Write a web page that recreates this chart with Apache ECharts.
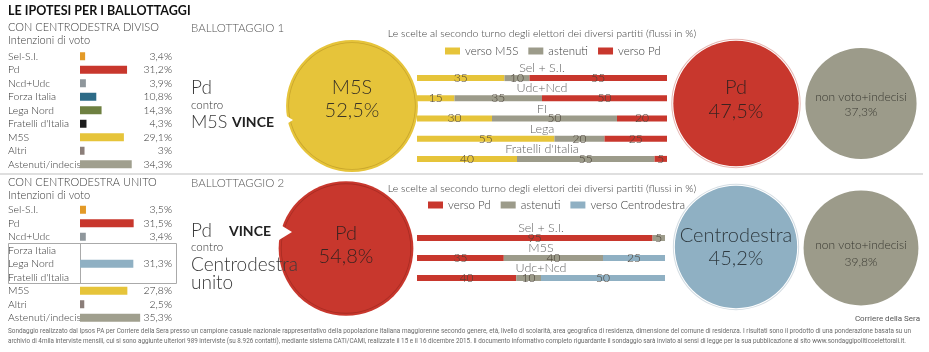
<!DOCTYPE html>
<html><head><meta charset="utf-8">
<script src="https://cdn.jsdelivr.net/npm/echarts/dist/echarts.min.js"></script>
<style>html,body{margin:0;padding:0;background:#fff}#c{width:929px;height:352px}</style>
</head><body><div id="c"></div>
<script>
// ---------- DATA ----------
const parties1 = ['Sel-S.I.','Pd','Ncd+Udc','Forza Italia','Lega Nord',"Fratelli d'Italia",'M5S','Altri','Astenuti/indecisi'];
const votes1 = [3.4,31.2,3.9,10.8,14.3,4.3,29.1,3,34.3];
const parties2 = ['Sel-S.I.','Pd','Ncd+Udc','Forza Italia','Lega Nord',"Fratelli d'Italia",'M5S','Altri','Astenuti/indecisi'];
// Forza Italia + Lega Nord + Fratelli d'Italia united: one value shown on the middle row
const votes2 = [3.5,31.5,3.4,null,31.3,null,27.8,2.5,35.3];

const flow1Parties = ['Sel + S.I.','Udc+Ncd','FI','Lega',"Fratelli d'Italia"];
const flow1ToM5S = [35,15,30,55,40];
const flow1Abst  = [10,35,50,20,55];
const flow1ToPd  = [55,50,20,25,5];

const flow2Parties = ['Sel + S.I.','M5S','Udc+Ncd'];
const flow2ToPd  = [95,35,40];
const flow2Abst  = [5,40,10];
const flow2ToCdx = [0,25,50];

const run1Names = ['M5S','Pd','non voto+indecisi'];
const run1Values = [52.5,47.5,37.3];
const run2Names = ['Pd','Centrodestra','non voto+indecisi'];
const run2Values = [54.8,45.2,39.8];

// ---------- STYLES ----------
const C = {
  sel:'#e39a27', pd:'#c8372d', ncd:'#8f979c', fi:'#2d6b87', lega:'#6e8041', fdi:'#1c1c1c',
  m5s:'#e6c43a', altri:'#8b7e79', ast:'#a09f8e', cdx:'#8fb0c3', gray:'#9c9b8a'
};
const colors1 = [C.sel,C.pd,C.ncd,C.fi,C.lega,C.fdi,C.m5s,C.altri,C.ast];
const colors2 = [C.sel,C.pd,C.ncd,C.cdx,C.cdx,C.cdx,C.m5s,C.altri,C.ast];
const FONT = 'Lato';
const fmt = v => (v===null||v===undefined) ? '' : String(v).replace('.',',') + '%';

const chart = echarts.init(document.getElementById('c'), null, {renderer:'canvas'});

function leftGrid(top){
  return {left:80, top:top, width:92, height:121.5, outerBoundsMode:'none', containLabel:false};
}
const grids = [
  leftGrid(49.5), leftGrid(203),
  {left:417, top:68, width:250, height:101, outerBoundsMode:'none'},
  {left:417, top:228, width:248, height:60, outerBoundsMode:'none'}
];
const hiddenX = (gi, max) => ({type:'value', gridIndex:gi, min:0, max:max, show:false});
const xAxes = [hiddenX(0, 61), hiddenX(1, 54), hiddenX(2, 100), hiddenX(3, 100)];

const rowLabel = {fontFamily:FONT, fontWeight:300, fontSize:10.4, color:'#333', interval:0, hideOverlap:false};
function leftY(gi, names){
  return {type:'category', gridIndex:gi, data:names, inverse:true,
    axisLine:{show:false}, axisTick:{show:false}, splitLine:{show:false},
    axisLabel:Object.assign({align:'left', margin:72}, rowLabel)};
}
function rightY(gi, names, vals){
  return {type:'category', gridIndex:gi, data:names, inverse:true, position:'right',
    axisLine:{show:false}, axisTick:{show:false}, splitLine:{show:false},
    axisLabel:Object.assign({align:'right', margin:0, formatter:(v, i)=> fmt(vals[i])}, rowLabel)};
}
const yAxes = [
  leftY(0, parties1), rightY(0, parties1, votes1),
  leftY(1, parties2), rightY(1, parties2, votes2),
  {type:'category', gridIndex:2, data:flow1Parties, inverse:true, show:false},
  {type:'category', gridIndex:3, data:flow2Parties, inverse:true, show:false}
];

const segLabel = {show:true, position:'inside', fontFamily:FONT, fontWeight:300, fontSize:12,
  color:'#4a4238', textBorderWidth:0, formatter:p => p.value>0 ? p.value : ''};

function flowSeries(name, data, color, xi, yi){
  return {type:'bar', name:name, stack:'s'+xi, xAxisIndex:xi, yAxisIndex:yi, data:data,
    barWidth:6, itemStyle:{color:color}, label:segLabel, silent:true, animation:false};
}
function nameSeries(names, xi, yi){
  return {type:'scatter', xAxisIndex:xi, yAxisIndex:yi, symbolSize:1, itemStyle:{color:'rgba(0,0,0,0)'},
    data:names.map((n,i)=>({name:n, value:[50,i]})), silent:true, animation:false, z:5,
    label:{show:true, position:'inside', offset:[0,-10], formatter:'{b}', fontFamily:FONT, fontWeight:300,
      fontSize:12.5, color:'#3a3a3a'}};
}

// shift > 0 moves the two-line label up, < 0 moves it down
function circle(name, value, color, cx, cy, opts){
  const r = 9.1*Math.sqrt(value);
  const o = opts||{};
  const fs = o.fs||20, lh = o.lh||24, sh = o.shift||0;
  let f = '{t|{b}}\n{t|' + fmt(value) + '}';
  if(sh > 0) f = f + '\n{s|}';
  if(sh < 0) f = '{s|}\n' + f;
  const list = [{
    type:'pie', center:[cx,cy], radius:[0,r], silent:true, animation:false,
    label:{show:true, position:'center', formatter:f,
      rich:{t:{fontFamily:FONT, fontWeight:300, fontSize:fs, lineHeight:lh, color:o.tc||'#3a3326'},
            s:{fontSize:1, lineHeight:Math.max(1, Math.abs(sh)*2)}}},
    labelLine:{show:false}, itemStyle:{color:color, borderWidth:0},
    data:[{name:name, value:value}]
  }];
  if(o.ring){
    list.push({type:'pie', center:[cx,cy], radius:o.ring==='in'?[r-3,r-2.2]:[r+1,r+2], silent:true, animation:false,
      label:{show:false}, labelLine:{show:false}, itemStyle:{color:o.ringColor, borderWidth:0},
      data:[{name:name+'_ring', value:1}]});
  }
  return list;
}

const series = [
  {type:'bar', xAxisIndex:0, yAxisIndex:0, barWidth:8, silent:true, animation:false,
    data:votes1.map((v,i)=>({value:v, itemStyle:{color:colors1[i]}}))},
  {type:'bar', xAxisIndex:1, yAxisIndex:2, barWidth:8, silent:true, animation:false,
    data:votes2.map((v,i)=>({value:v===null?'-':v, itemStyle:{color:colors2[i]}}))},
  flowSeries('verso M5S', flow1ToM5S, C.m5s, 2, 4),
  flowSeries('astenuti', flow1Abst, C.gray, 2, 4),
  flowSeries('verso Pd', flow1ToPd, C.pd, 2, 4),
  nameSeries(flow1Parties, 2, 4),
  flowSeries('verso Pd', flow2ToPd, C.pd, 3, 5),
  flowSeries('astenuti', flow2Abst, C.gray, 3, 5),
  flowSeries('verso Centrodestra', flow2ToCdx, C.cdx, 3, 5),
  nameSeries(flow2Parties, 3, 5),
  ...circle(run1Names[0], run1Values[0], C.m5s, 352, 106, {lh:23, shift:6.5, ring:'in', ringColor:'#c9a62c'}),
  ...circle(run1Names[1], run1Values[1], C.pd, 736, 103.5, {lh:24, shift:3.5, ring:'out', ringColor:'#e6b8b4', tc:'#3b2320'}),
  ...circle(run1Names[2], run1Values[2], C.gray, 861, 103.5, {fs:12, lh:15, shift:-1, tc:'#3a3a32'}),
  ...circle(run2Names[0], run2Values[0], C.pd, 346, 248.5, {lh:23, shift:3, ring:'in', ringColor:'#a82c23', tc:'#3b2320'}),
  ...circle(run2Names[1], run2Values[1], C.cdx, 736, 247, {lh:23, ring:'out', ringColor:'#d4dde3', tc:'#2f3a40'}),
  ...circle(run2Names[2], run2Values[2], C.gray, 861, 248, {fs:12, lh:17, shift:-5.5, tc:'#3a3a32'})
];

const legendText = {fontFamily:FONT, fontWeight:300, fontSize:11.5, color:'#3a3a3a'};
const legends = [
  {data:['verso M5S','astenuti','verso Pd'], left:445, top:45, itemWidth:15, itemHeight:7, itemGap:10,
    icon:'rect', textStyle:legendText, selectedMode:false, padding:0, itemStyle:{borderWidth:0}},
  {data:['verso Pd','astenuti','verso Centrodestra'], left:428, top:199, itemWidth:15, itemHeight:7, itemGap:10,
    icon:'rect', textStyle:legendText, selectedMode:false, padding:0, itemStyle:{borderWidth:0}}
];

function T(x, y, text, o){
  o = o||{};
  const el = {type:'text', x:x, y:y, silent:true, z:10,
    style:{text:text, fill:o.c||'#3a3a3a', font:(o.w||300)+' '+(o.s||12)+'px '+(o.f||FONT),
      textAlign:o.a||'left', textVerticalAlign:'middle'}};
  if(o.fitW){
    const ctx = document.createElement('canvas').getContext('2d');
    ctx.font = el.style.font;
    el.scaleX = o.fitW / ctx.measureText(text).width;
  }
  return el;
}
const footer1 = "Sondaggio realizzato dal Ipsos PA per Corriere della Sera presso un campione casuale nazionale rappresentativo della popolazione italiana maggiorenne secondo genere, età, livello di scolarità, area geografica di residenza, dimensione del comune di residenza. I risultati sono il prodotto di una ponderazione basata su un";
const footer2 = "archivio di 4mila interviste mensili, cui si sono aggiunte ulteriori 989 interviste (su 8.926 contatti), mediante sistema CATI/CAMI, realizzate il 15 e il 16 dicembre 2015. Il documento informativo completo riguardante il sondaggio sarà inviato ai sensi di legge per la sua pubblicazione al sito www.sondaggipoliticoelettorali.it.";

const graphic = [
  T(8, 11, 'LE IPOTESI PER I BALLOTTAGGI', {w:700, s:12.5, c:'#111'}),
  T(8, 27, 'CON CENTRODESTRA DIVISO', {s:11}),
  T(8, 40, 'Intenzioni di voto', {s:11}),
  T(8, 182, 'CON CENTRODESTRA UNITO', {s:11}),
  T(8, 195, 'Intenzioni di voto', {s:11}),
  {type:'rect', shape:{x:8.5, y:243.5, width:168, height:40}, style:{fill:'none', stroke:'#aaa', lineWidth:1}, silent:true},
  {type:'line', shape:{x1:80.5, y1:243.5, x2:80.5, y2:283.5}, style:{stroke:'#aaa', lineWidth:1}, silent:true},
  {type:'line', shape:{x1:0, y1:174, x2:923, y2:174}, style:{stroke:'#d4d4d4', lineWidth:1.5}, silent:true},
  T(191, 28, 'BALLOTTAGGIO 1', {s:11.5, c:'#555'}),
  T(191, 88, 'Pd', {s:19}),
  T(191, 105, 'contro', {s:11.5}),
  T(191, 122, 'M5S', {s:18}),
  T(232, 122, 'VINCE', {w:700, s:14, c:'#222'}),
  T(191, 183, 'BALLOTTAGGIO 2', {s:11.5, c:'#555'}),
  T(191, 231, 'Pd', {s:19}),
  T(229, 231, 'VINCE', {w:700, s:14, c:'#222'}),
  T(191, 247, 'contro', {s:11.5}),
  T(191, 265, 'Centrodestra', {s:19}),
  T(191, 283, 'unito', {s:19}),
  T(542, 34, 'Le scelte al secondo turno degli elettori dei diversi partiti (flussi in %)', {s:10.5, a:'center'}),
  T(542, 189, 'Le scelte al secondo turno degli elettori dei diversi partiti (flussi in %)', {s:10.5, a:'center'}),
  {type:'polygon', shape:{points:[[280,112],[293,120],[280,128]]}, style:{fill:'#fff'}, silent:true, z:10},
  {type:'polygon', shape:{points:[[279,224],[292,232],[279,240]]}, style:{fill:'#fff'}, silent:true, z:10},
  T(920, 319, 'Corriere della Sera', {s:8, a:'right', c:'#555', f:'Roboto', w:400}),
  T(8, 331, footer1, {s:8, c:'#6a6a6a', f:'Roboto', w:400, fitW:903}),
  T(8, 341, footer2, {s:8, c:'#6a6a6a', f:'Roboto', w:400, fitW:898})
];

chart.setOption({
  animation:false,
  textStyle:{fontFamily:FONT},
  grid:grids, xAxis:xAxes, yAxis:yAxes, series:series, legend:legends, graphic:graphic, tooltip:{show:false}
});
</script></body></html>
